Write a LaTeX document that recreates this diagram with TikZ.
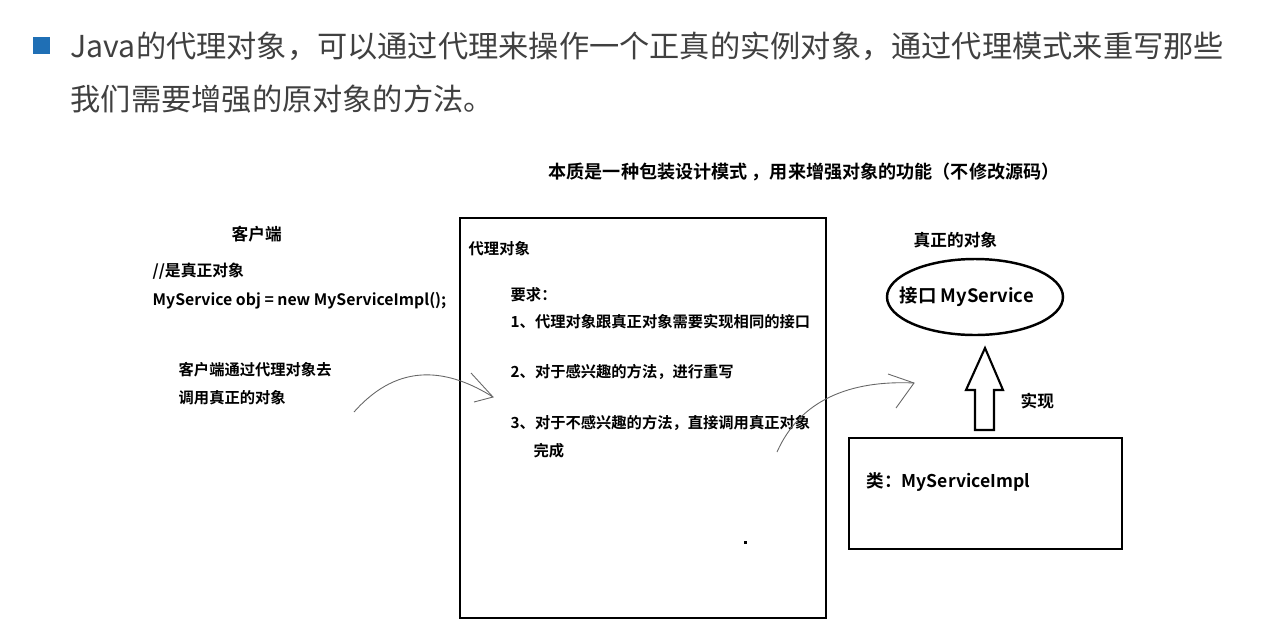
\documentclass[tikz,border=0pt]{standalone}
\usepackage{fontspec}
\setmainfont{Noto Sans CJK SC}
\newfontfamily\cjkb{Noto Sans CJK SC Bold}
\usetikzlibrary{positioning}
\definecolor{headgray}{HTML}{404040}
\definecolor{bulletblue}{HTML}{1F6FB5}
\begin{document}
\begin{tikzpicture}[x=0.02cm,y=-0.02cm,thick,
  lbl/.style={anchor=west,inner sep=0pt,font=\cjkb\fontsize{8.7pt}{16pt}\selectfont,align=left},
  head/.style={anchor=west,inner sep=0pt,text=headgray,font=\fontsize{17.2pt}{20pt}\selectfont},
  hand/.style={gray!80!black,line width=0.5pt}]
  \useasboundingbox (0,0) rectangle (1264,640);

  % heading
  \fill[bulletblue] (33,37) rectangle (50,54);
  \node[head] (h1) at (70,46) {Java的代理对象，可以通过代理来操作一个正真的实例对象，通过代理模式来重写那些};
  \node[head] (h2) at (70,99) {我们需要增强的原对象的方法。};
  \node[lbl,font=\cjkb\fontsize{10.3pt}{12pt}\selectfont] (top) at (548,172) {本质是一种包装设计模式 ，用来增强对象的功能（不修改源码）};

  % client
  \node[lbl,font=\cjkb\fontsize{9.5pt}{12pt}\selectfont] (client) at (231,234) {客户端};
  \node[lbl,font=\cjkb\fontsize{9pt}{16pt}\selectfont] (code) at (152,286) {//是真正对象\\MyService obj = new MyServiceImpl();};
  \node[lbl] (call) at (178,384) {客户端通过代理对象去\\调用真正的对象};

  % proxy
  \draw[line width=1.4pt] (460,218) rectangle (826,618);
  \node[lbl] (proxy) at (468,249) {代理对象};
  \node[lbl] (req) at (510,295) {要求：};
  \node[lbl] (r1) at (510,322) {1、代理对象跟真正对象需要实现相同的接口};
  \node[lbl] (r2) at (510,372) {2、对于感兴趣的方法，进行重写};
  \node[lbl] (r3) at (510,437) {3、对于不感兴趣的方法，直接调用真正对象\\\hspace{1.5em}完成};
  \fill (744,541) rectangle ++(3,3);

  % real object
  \node[lbl,font=\cjkb\fontsize{9.5pt}{12pt}\selectfont] (real) at (913,240) {真正的对象};
  \draw[line width=1.4pt] (975,297) ellipse [x radius=88,y radius=38];
  \node[lbl,font=\cjkb\fontsize{10.5pt}{12pt}\selectfont] (iface) at (899,297) {接口 MyService};
  \draw[line width=1.2pt] (985,348) -- (1003,390) -- (994,390) -- (994,430)
    -- (975,430) -- (975,390) -- (966,390) -- cycle;
  \node[lbl,font=\cjkb\fontsize{9.5pt}{12pt}\selectfont] (impl) at (1020,401) {实现};
  \draw[line width=1.4pt] (849,438) rectangle (1122,549);
  \node[lbl,font=\cjkb\fontsize{10pt}{12pt}\selectfont] (cls) at (866,482) {类：MyServiceImpl};

  % hand-drawn arrows
  \draw[hand] (354,412) .. controls (400,360) and (450,370) .. (493,397);
  \draw[hand] (471,373) -- (493,397) -- (474,402);
  \draw[hand] (777,452) .. controls (800,400) and (850,380) .. (914,383);
  \draw[hand] (888,374) -- (914,383) -- (896,408);
\end{tikzpicture}
\end{document}
